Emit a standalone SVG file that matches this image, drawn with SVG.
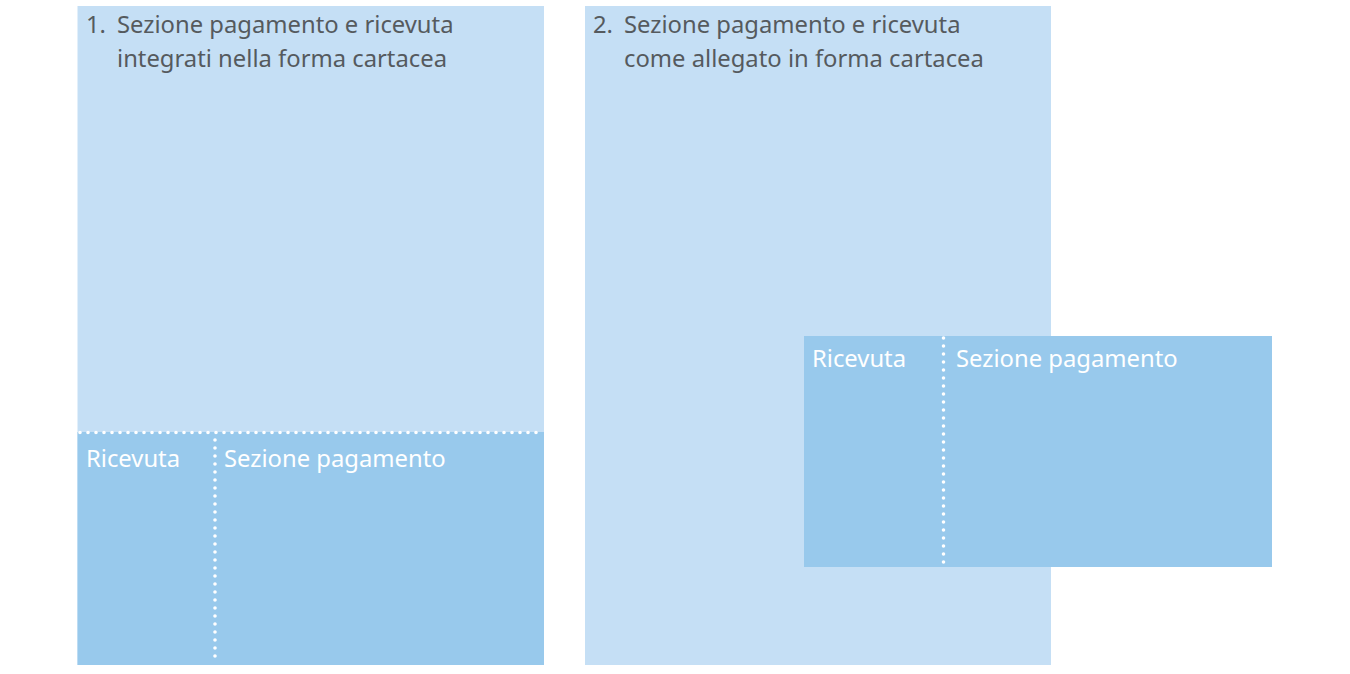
<svg xmlns="http://www.w3.org/2000/svg" width="1350" height="674" viewBox="0 0 1350 674">
<style>
.light{fill:#c5dff5}
.dark{fill:#98c9ec}
.dots{stroke:#ffffff;stroke-width:3.6;stroke-linecap:round;stroke-dasharray:0 8;fill:none}
.title{font-family:"Noto Sans","Open Sans",sans-serif;font-size:23.8px;fill:#555a5e}
.label{font-family:"Noto Sans","Open Sans",sans-serif;font-size:23.8px;fill:#ffffff}
</style>
<rect width="1350" height="674" fill="#ffffff"/>
<g id="panel1">
<rect class="light" x="77.5" y="6" width="466.5" height="659"/>
<rect class="dark" x="77.5" y="432" width="466.5" height="233"/>
<text class="title" x="86" y="33">1.</text>
<text class="title" x="117" y="33">Sezione pagamento e ricevuta</text>
<text class="title" x="117" y="67">integrati nella forma cartacea</text>
</g>
<g id="panel1-ricevuta">
<text class="label" x="86" y="467">Ricevuta</text>
</g>
<g id="panel1-sezione">
<text class="label" x="224" y="467">Sezione pagamento</text>
</g>
<g id="panel2">
<rect class="light" x="585" y="6" width="466" height="659"/>
<text class="title" x="593" y="33">2.</text>
<text class="title" x="624" y="33">Sezione pagamento e ricevuta</text>
<text class="title" x="624" y="67">come allegato in forma cartacea</text>
</g>
<g id="panel2-attachment">
<rect class="dark" x="804" y="336" width="468" height="231"/>
<text class="label" x="812" y="367">Ricevuta</text>
<text class="label" x="956" y="367">Sezione pagamento</text>
</g>
<g id="connectors">
<line class="dots" x1="80" y1="432.5" x2="544" y2="432.5"/>
<line class="dots" x1="215" y1="440" x2="215" y2="664"/>
<line class="dots" x1="943.5" y1="338" x2="943.5" y2="566"/>
</g>
</svg>
